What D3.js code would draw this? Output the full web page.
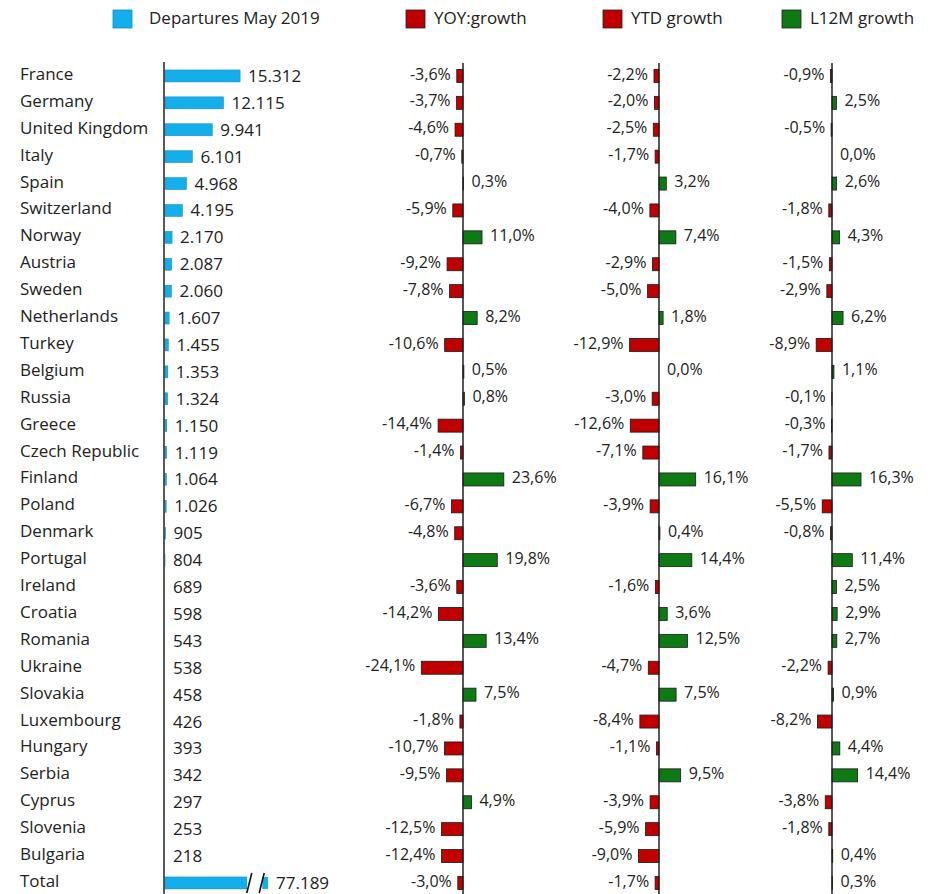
<!DOCTYPE html>
<html lang="en">
<head>
  <meta charset="UTF-8">
  <title>Departures May 2019</title>
  <style>
    body { margin: 0; background: #fff; }
    text { font-family: "Open Sans", "Noto Sans", sans-serif; fill: #222; }
  </style>
</head>
<body>
<script src="https://cdnjs.cloudflare.com/ajax/libs/d3/7.8.5/d3.min.js"></script>
<div id="chart"></div>
<script>
  // DATA =========================================================================
  const countries = ["France", "Germany", "United Kingdom", "Italy", "Spain", "Switzerland",
    "Norway", "Austria", "Sweden", "Netherlands", "Turkey", "Belgium", "Russia", "Greece",
    "Czech Republic", "Finland", "Poland", "Denmark", "Portugal", "Ireland", "Croatia",
    "Romania", "Ukraine", "Slovakia", "Luxembourg", "Hungary", "Serbia", "Cyprus",
    "Slovenia", "Bulgaria", "Total"];

  const departures = [15312, 12115, 9941, 6101, 4968, 4195, 2170, 2087, 2060, 1607, 1455,
    1353, 1324, 1150, 1119, 1064, 1026, 905, 804, 689, 598, 543, 538, 458, 426, 393, 342,
    297, 253, 218, 77189];

  const yoyGrowth = [-3.6, -3.7, -4.6, -0.7, 0.3, -5.9, 11.0, -9.2, -7.8, 8.2, -10.6, 0.5, 0.8,
    -14.4, -1.4, 23.6, -6.7, -4.8, 19.8, -3.6, -14.2, 13.4, -24.1, 7.5, -1.8, -10.7, -9.5, 4.9,
    -12.5, -12.4, -3.0];

  const ytdGrowth = [-2.2, -2.0, -2.5, -1.7, 3.2, -4.0, 7.4, -2.9, -5.0, 1.8, -12.9, 0.0, -3.0,
    -12.6, -7.1, 16.1, -3.9, 0.4, 14.4, -1.6, 3.6, 12.5, -4.7, 7.5, -8.4, -1.1, 9.5, -3.9,
    -5.9, -9.0, -1.7];

  const l12mGrowth = [-0.9, 2.5, -0.5, 0.0, 2.6, -1.8, 4.3, -1.5, -2.9, 6.2, -8.9, 1.1, -0.1,
    -0.3, -1.7, 16.3, -5.5, -0.8, 11.4, 2.5, 2.9, 2.7, -2.2, 0.9, -8.2, 4.4, 14.4, -3.8, -1.8,
    0.4, 0.3];

  const legendLabels = ["Departures May 2019", "YOY:growth", "YTD growth", "L12M growth"];

  // the total bar is drawn broken: shown up to breakFrom, resumes at breakTo, ends at breakCap
  const breakFrom = 16600, breakTo = 19600, breakCap = 20700;

  // PLOT AREA ====================================================================
  const width = 931, height = 894;
  const svg = d3.select("#chart").append("svg")
      .attr("width", width)
      .attr("height", height);

  const blue = "#14AEEA", red = "#C00000", green = "#0E7A14";
  const locale = d3.formatLocale({decimal: ",", thousands: ".", grouping: [3], currency: ["", ""], minus: "-"});
  const fmtNum = locale.format(",d");
  const fmtPct = v => locale.format(".1f")(v) + "%";

  // SCALES =======================================================================
  const y = d3.scaleBand()
      .domain(countries)
      .range([62.5, 62.5 + 31 * 26.9]);
  const rowMid = c => y(c) + y.bandwidth() / 2;

  const xDep = d3.scaleLinear()
      .domain([800, breakCap])
      .range([165, 268])
      .clamp(true);

  const panels = [
    {values: yoyGrowth, x: d3.scaleLinear().domain([-25, 25]).range([463 - 25 * 1.73, 463 + 25 * 1.73])},
    {values: ytdGrowth, x: d3.scaleLinear().domain([-15, 20]).range([659 - 15 * 2.28, 659 + 20 * 2.28])},
    {values: l12mGrowth, x: d3.scaleLinear().domain([-10, 20]).range([832 - 10 * 1.78, 832 + 20 * 1.78])}
  ];

  const barH = 13;

  // LEGEND =======================================================================
  const legendX = [113, 406, 603, 782];
  const legendC = [blue, red, red, green];
  legendLabels.forEach((lab, i) => {
    svg.append("rect")
        .attr("x", legendX[i]).attr("y", 10)
        .attr("width", 19).attr("height", 18)
        .attr("fill", legendC[i])
        .attr("stroke", i === 0 ? "#0c8fc4" : "#222").attr("stroke-width", 0.8);
    svg.append("text")
        .attr("x", legendX[i] + (i === 0 ? 36 : 28)).attr("y", 18)
        .attr("dy", "0.35em")
        .style("font-size", "17px")
        .text(lab);
  });

  // COUNTRY LABELS ===============================================================
  svg.append("g").selectAll("text")
    .data(countries)
    .join("text")
      .attr("x", 20)
      .attr("y", d => rowMid(d) - 2)
      .attr("dy", "0.35em")
      .style("font-size", "17px")
      .text(d => d);

  // DEPARTURES BARS ==============================================================
  const depData = countries.map((c, i) => ({c, v: departures[i], total: c === "Total"}));
  const gDep = svg.append("g");
  gDep.selectAll("rect.bar")
    .data(depData)
    .join("rect")
      .attr("class", "bar")
      .attr("x", xDep(800))
      .attr("y", d => rowMid(d.c) - 6)
      .attr("width", d => xDep(d.total ? breakFrom : d.v) - xDep(800))
      .attr("height", 12)
      .attr("fill", blue)
      .attr("stroke", "#1288b8")
      .attr("stroke-width", 0.5);

  // broken part of the total bar
  const tRow = rowMid("Total");
  gDep.append("rect")
      .attr("x", xDep(breakTo)).attr("y", tRow - 6)
      .attr("width", xDep(breakCap) - xDep(breakTo)).attr("height", 12)
      .attr("fill", blue);
  [breakFrom, breakTo - 600].forEach(v => {
    gDep.append("line")
        .attr("x1", xDep(v)).attr("y1", tRow + 10)
        .attr("x2", xDep(v) + 5).attr("y2", tRow - 10)
        .attr("stroke", "#111").attr("stroke-width", 1.6);
  });

  gDep.selectAll("text")
    .data(depData)
    .join("text")
      .attr("x", d => xDep(d.total ? breakCap : d.v) + 8)
      .attr("y", d => rowMid(d.c))
      .attr("dy", "0.35em")
      .style("font-size", "17px")
      .text(d => fmtNum(d.v));

  svg.append("line")
      .attr("x1", 164).attr("x2", 164)
      .attr("y1", 62).attr("y2", height)
      .attr("stroke", "#222").attr("stroke-width", 1.5);

  // GROWTH PANELS ================================================================
  panels.forEach(p => {
    const data = countries.map((c, i) => ({c, v: p.values[i]}));
    const g = svg.append("g");
    const x0 = p.x(0);

    g.selectAll("rect")
      .data(data)
      .join("rect")
        .attr("x", d => Math.min(p.x(d.v), x0))
        .attr("y", d => rowMid(d.c) - barH / 2)
        .attr("width", d => Math.abs(p.x(d.v) - x0))
        .attr("height", barH)
        .attr("fill", d => d.v < 0 ? red : green)
        .attr("stroke", "#1a1a1a")
        .attr("stroke-width", 0.8);

    g.selectAll("text")
      .data(data)
      .join("text")
        .attr("x", d => d.v < 0 ? p.x(d.v) - 6 : p.x(d.v) + 8)
        .attr("y", d => rowMid(d.c) - 2)
        .attr("dy", "0.35em")
        .attr("text-anchor", d => d.v < 0 ? "end" : "start")
        .style("font-size", "16px")
        .text(d => fmtPct(d.v));

    g.append("line")
        .attr("x1", x0).attr("x2", x0)
        .attr("y1", 63).attr("y2", height)
        .attr("stroke", "#222").attr("stroke-width", 1.5);
  });
</script>
</body>
</html>
